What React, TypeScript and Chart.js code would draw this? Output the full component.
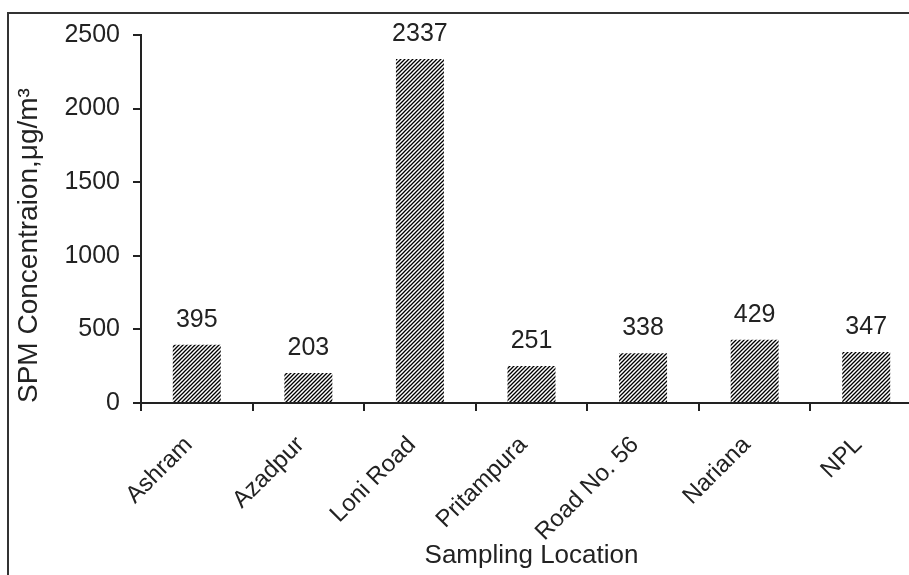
import React, { useEffect, useRef } from "react";
import { Chart, registerables } from "chart.js";

Chart.register(...registerables);

const categories = ["Ashram", "Azadpur", "Loni Road", "Pritampura", "Road No. 56", "Nariana", "NPL"];
const spmValues = [395, 203, 2337, 251, 338, 429, 347];
const yTickValues = [0, 500, 1000, 1500, 2000, 2500];

const FONT = "'Liberation Sans', Arial, sans-serif";
const INK = "#222222";

function makeHatch(): CanvasPattern | string {
  const tile = document.createElement("canvas");
  tile.width = 4;
  tile.height = 4;
  const c = tile.getContext("2d");
  if (!c) return "#555";
  c.fillStyle = "#ffffff";
  c.fillRect(0, 0, 4, 4);
  c.strokeStyle = "#000000";
  c.lineWidth = 1.3;
  c.beginPath();
  c.moveTo(-1, 5);
  c.lineTo(5, -1);
  c.moveTo(-1, 1);
  c.lineTo(1, -1);
  c.moveTo(3, 5);
  c.lineTo(5, 3);
  c.stroke();
  const p = c.createPattern(tile, "repeat");
  return p || "#555";
}

const valueLabels = {
  id: "valueLabels",
  afterDatasetsDraw(chart: any) {
    const ctx = chart.ctx;
    const meta = chart.getDatasetMeta(0);
    ctx.save();
    ctx.font = `25px ${FONT}`;
    ctx.fillStyle = INK;
    ctx.textAlign = "center";
    ctx.textBaseline = "alphabetic";
    meta.data.forEach((el: any, i: number) => {
      ctx.fillText(String(spmValues[i]), el.x, el.y - 18);
    });
    ctx.restore();
  },
};

export default function App() {
  const canvasRef = useRef<HTMLCanvasElement | null>(null);

  useEffect(() => {
    if (!canvasRef.current) return;
    const hatch = makeHatch();
    const chart = new Chart(canvasRef.current, {
      type: "bar",
      data: {
        labels: categories,
        datasets: [
          {
            data: spmValues,
            backgroundColor: hatch as any,
            borderWidth: 0,
            barPercentage: 0.43,
            categoryPercentage: 1,
          },
        ],
      },
      plugins: [valueLabels],
      options: {
        animation: false,
        responsive: true,
        maintainAspectRatio: false,
        layout: { padding: { top: 35, left: 0, right: 0, bottom: 0 } },
        plugins: {
          legend: { display: false },
          tooltip: { enabled: false },
        },
        scales: {
          x: {
            type: "category",
            grid: {
              display: true,
              drawOnChartArea: false,
              drawTicks: true,
              tickLength: 8,
              color: INK,
              lineWidth: 2,
              offset: true,
            },
            border: { display: true, color: INK, width: 2 },
            ticks: {
              autoSkip: false,
              minRotation: 45,
              maxRotation: 45,
              color: INK,
              padding: 20,
              labelOffset: -8,
              font: { family: FONT, size: 24 },
            },
            title: {
              display: true,
              text: "Sampling Location",
              color: INK,
              font: { family: FONT, size: 26 },
              padding: { top: 0, bottom: 4 },
            },
            afterFit: (s: any) => {
              s.height = 172;
            },
          },
          y: {
            min: 0,
            max: 2500,
            afterBuildTicks: (s: any) => {
              s.ticks = yTickValues.map((v) => ({ value: v }));
            },
            grid: {
              display: true,
              drawOnChartArea: false,
              drawTicks: true,
              tickLength: 8,
              color: INK,
              lineWidth: 2,
            },
            border: { display: true, color: INK, width: 2 },
            ticks: {
              color: INK,
              padding: 13,
              font: { family: FONT, size: 25 },
              callback: (v: any) => String(v),
            },
            title: {
              display: true,
              text: "SPM Concentraion,μg/m³",
              align: "start",
              color: INK,
              font: { family: FONT, size: 28 },
              padding: { top: 12, bottom: 0 },
            },
            afterFit: (s: any) => {
              s.width = 141;
            },
          },
        },
      },
    });
    return () => chart.destroy();
  }, []);

  return (
    <div
      style={{
        position: "absolute",
        left: 0,
        top: 0,
        width: 909,
        height: 575,
        overflow: "hidden",
        background: "#ffffff",
      }}
    >
      <div
        style={{
          position: "absolute",
          left: 7,
          top: 12,
          width: 960,
          height: 620,
          borderLeft: "2px solid #333333",
          borderTop: "2px solid #333333",
        }}
      />
      <div style={{ position: "absolute", left: 0, top: 0, width: 922, height: 575 }}>
        <canvas ref={canvasRef} />
      </div>
    </div>
  );
}
